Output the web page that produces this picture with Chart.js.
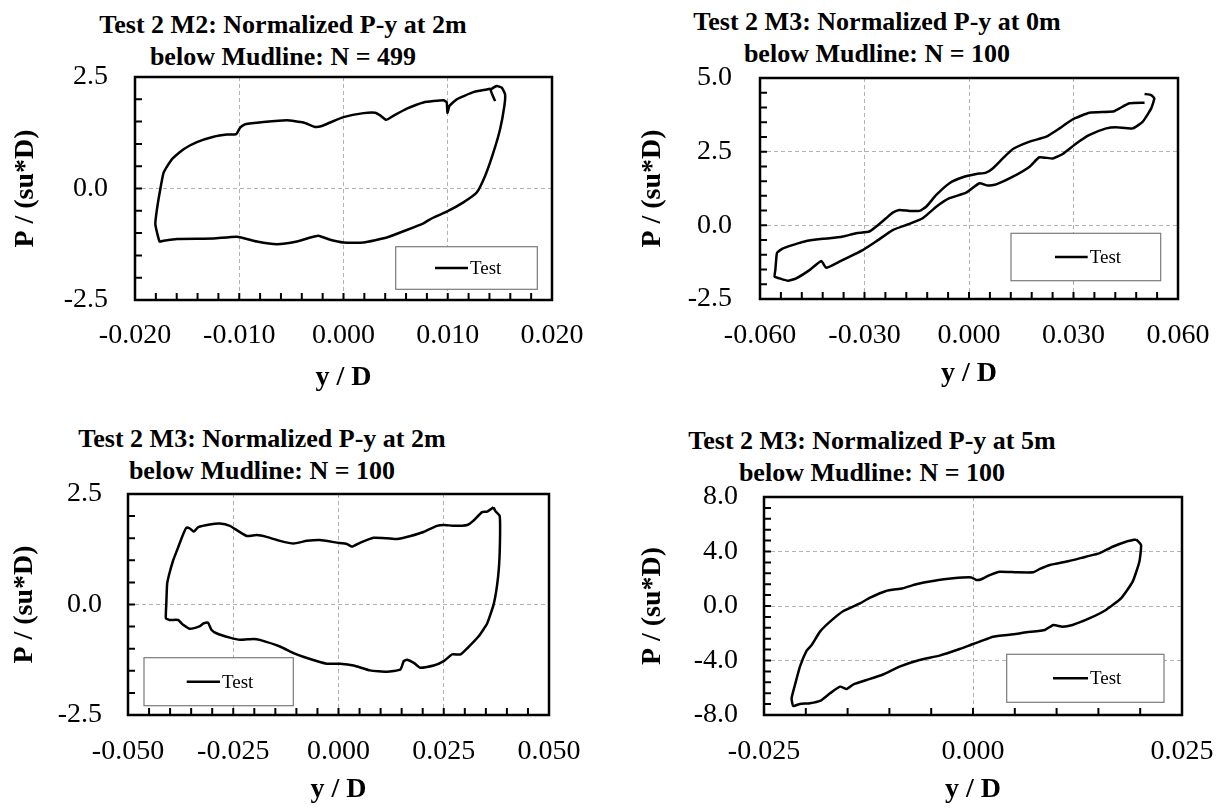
<!DOCTYPE html>
<html>
<head>
<meta charset="utf-8">
<title>Normalized P-y loops</title>
<script src="https://cdn.jsdelivr.net/npm/chart.js@4.4.1/dist/chart.umd.min.js"></script>
<style>
  body { margin: 0; background: #fff; width: 1225px; height: 810px; position: relative; overflow: hidden; }
  canvas { position: absolute; }
  .ttl {
    position: absolute; width: 600px; text-align: center; white-space: nowrap;
    font: bold 26px "Liberation Serif", "Times New Roman", serif; line-height: 32px; color: #000;
  }
</style>
</head>
<body>
<div class="ttl" style="left:-17px;top:9px">Test 2 M2: Normalized P-y at 2m<br>below Mudline: N = 499</div>
<div class="ttl" style="left:577px;top:6px">Test 2 M3: Normalized P-y at 0m<br>below Mudline: N = 100</div>
<div class="ttl" style="left:-38px;top:423px">Test 2 M3: Normalized P-y at 2m<br>below Mudline: N = 100</div>
<div class="ttl" style="left:572px;top:425px">Test 2 M3: Normalized P-y at 5m<br>below Mudline: N = 100</div>

<canvas id="c1" width="600" height="405" style="left:0;top:0"></canvas>
<canvas id="c2" width="613" height="405" style="left:612px;top:0"></canvas>
<canvas id="c3" width="600" height="405" style="left:0;top:405px"></canvas>
<canvas id="c4" width="613" height="405" style="left:612px;top:405px"></canvas>

<script>
// ---- Test 2 M2, 2 m below mudline, N = 499 ----
const m2z2X = [0.01454, 0.01412, 0.0147, 0.01518, 0.0155, 0.01543, 0.01502, 0.01438, 0.01358, 0.01278,
  0.0115, 0.0099, 0.00831, 0.00767, 0.00607, 0.00415, 0.00192, 0.0, -0.00128, -0.0024,
  -0.00319, -0.00447, -0.00639, -0.00831, -0.01022, -0.01246, -0.01597, -0.01725, -0.01764, -0.01805,
  -0.01789, -0.01757, -0.01725, -0.01645, -0.01534, -0.01406, -0.01246, -0.01118, -0.01029, -0.0099,
  -0.00942, -0.00767, -0.00543, -0.00383, -0.00272, -0.00208, -0.00128, 0.0, 0.00192, 0.00304,
  0.00352, 0.00409, 0.00479, 0.00607, 0.00767, 0.00959, 0.0099, 0.00997, 0.01016, 0.01086,
  0.01246, 0.01374, 0.01412];
const m2z2P = [1.96, 2.21, 2.30, 2.26, 2.11, 1.85, 1.33, 0.81, 0.28, -0.09,
  -0.31, -0.52, -0.69, -0.78, -0.93, -1.10, -1.21, -1.21, -1.15, -1.06,
  -1.10, -1.19, -1.25, -1.19, -1.08, -1.12, -1.13, -1.17, -1.19, -0.80,
  -0.46, -0.01, 0.36, 0.66, 0.88, 1.04, 1.16, 1.21, 1.22, 1.37,
  1.44, 1.49, 1.53, 1.48, 1.38, 1.40, 1.48, 1.60, 1.69, 1.70,
  1.64, 1.54, 1.63, 1.79, 1.93, 1.98, 1.93, 1.70, 1.85, 2.00,
  2.16, 2.22, 2.24];
const m2z2XTicks = [-0.02, -0.01, 0, 0.01, 0.02];
const m2z2PTicks = [-2.5, 0, 2.5];

// ---- Test 2 M3, 0 m below mudline, N = 100 ----
const m3z0X = [0.0504, 0.0523, 0.0532, 0.0523, 0.0499, 0.0470, 0.0422, 0.0394, 0.0346, 0.0308,
  0.0269, 0.0241, 0.0202, 0.0174, 0.0126, 0.0078, 0.0054, 0.0030, -0.0008, -0.0056,
  -0.0094, -0.0133, -0.0171, -0.0219, -0.0267, -0.0305, -0.0372, -0.0410, -0.0424, -0.0458,
  -0.0496, -0.0520, -0.0544, -0.0558, -0.0556, -0.0554, -0.0551, -0.0534, -0.0496, -0.0467,
  -0.0439, -0.0400, -0.0362, -0.0324, -0.0286, -0.0267, -0.0238, -0.0219, -0.0200, -0.0171,
  -0.0142, -0.0123, -0.0094, -0.0056, -0.0018, 0.0021, 0.0049, 0.0068, 0.0097, 0.0126,
  0.0174, 0.0222, 0.0260, 0.0298, 0.0346, 0.0413, 0.0432, 0.0461, 0.0504];
const m3z0P = [4.46, 4.42, 4.31, 3.97, 3.52, 3.29, 3.33, 3.29, 3.07, 2.78,
  2.42, 2.27, 2.31, 1.99, 1.65, 1.39, 1.35, 1.43, 1.11, 0.92,
  0.63, 0.24, 0.05, -0.16, -0.55, -0.84, -1.23, -1.44, -1.21, -1.52,
  -1.80, -1.88, -1.80, -1.74, -1.52, -1.23, -0.93, -0.78, -0.63, -0.53,
  -0.48, -0.44, -0.38, -0.27, -0.21, -0.05, 0.24, 0.43, 0.52, 0.49,
  0.49, 0.63, 1.03, 1.43, 1.63, 1.74, 1.79, 1.93, 2.27, 2.59,
  2.84, 3.01, 3.29, 3.60, 3.82, 3.86, 3.97, 4.14, 4.16];
const m3z0XTicks = [-0.06, -0.03, 0, 0.03, 0.06];
const m3z0PTicks = [-2.5, 0, 2.5, 5];

// ---- Test 2 M3, 2 m below mudline, N = 100 ----
const m3z2X = [0.0368, 0.0373, 0.0383, 0.0383, 0.0379, 0.0369, 0.0353, 0.0333, 0.0306, 0.0290,
  0.0270, 0.0250, 0.0226, 0.0194, 0.0179, 0.0163, 0.0155, 0.0147, 0.0115, 0.0075,
  0.0036, 0.0004, -0.0028, -0.0075, -0.0107, -0.0139, -0.0187, -0.0202, -0.0234, -0.0258,
  -0.0290, -0.0302, -0.0310, -0.0321, -0.0329, -0.0353, -0.0369, -0.0381, -0.0402, -0.0410,
  -0.0409, -0.0407, -0.0402, -0.0393, -0.0381, -0.0369, -0.0361, -0.0353, -0.0344, -0.0333,
  -0.0306, -0.0282, -0.0258, -0.0238, -0.0218, -0.0194, -0.0171, -0.0139, -0.0107, -0.0075,
  -0.0044, -0.0004, 0.0020, 0.0032, 0.0052, 0.0083, 0.0115, 0.0139, 0.0171, 0.0202,
  0.0234, 0.0250, 0.0274, 0.0306, 0.0321, 0.0341, 0.0353, 0.0368];
const m3z2P = [2.20, 2.11, 2.00, 1.22, 0.62, 0.02, -0.43, -0.72, -0.99, -1.13,
  -1.13, -1.28, -1.38, -1.43, -1.32, -1.25, -1.28, -1.47, -1.52, -1.49,
  -1.38, -1.34, -1.34, -1.21, -1.10, -0.95, -0.80, -0.78, -0.80, -0.75,
  -0.65, -0.57, -0.41, -0.43, -0.49, -0.55, -0.46, -0.35, -0.35, -0.31,
  0.02, 0.47, 0.69, 0.99, 1.29, 1.59, 1.74, 1.72, 1.65, 1.75,
  1.81, 1.83, 1.78, 1.66, 1.55, 1.57, 1.53, 1.44, 1.38, 1.44,
  1.46, 1.40, 1.37, 1.31, 1.40, 1.51, 1.50, 1.48, 1.55, 1.64,
  1.78, 1.80, 1.78, 1.80, 1.90, 2.09, 2.10, 2.20];
const m3z2XTicks = [-0.05, -0.025, 0, 0.025, 0.05];
const m3z2PTicks = [-2.5, 0, 2.5];

// ---- Test 2 M3, 5 m below mudline, N = 100 ----
const m3z5X = [0.0195, 0.0201, 0.0199, 0.0191, 0.0177, 0.0159, 0.0139, 0.0119, 0.0107, 0.0096,
  0.0086, 0.0064, 0.0048, 0.0024, 0.0008, 0.0000, -0.0016, -0.0040, -0.0064, -0.0088,
  -0.0107, -0.0127, -0.0143, -0.0151, -0.0159, -0.0171, -0.0183, -0.0195, -0.0207, -0.0215,
  -0.0217, -0.0213, -0.0207, -0.0199, -0.0193, -0.0183, -0.0171, -0.0155, -0.0135, -0.0123,
  -0.0104, -0.0084, -0.0068, -0.0048, -0.0024, -0.0002, 0.0004, 0.0010, 0.0020, 0.0032,
  0.0052, 0.0072, 0.0080, 0.0092, 0.0115, 0.0135, 0.0151, 0.0167, 0.0183, 0.0195];
const m3z5P = [4.89, 4.48, 3.25, 1.79, 0.56, -0.29, -0.91, -1.39, -1.52, -1.39,
  -1.76, -1.93, -2.08, -2.25, -2.62, -2.79, -3.16, -3.64, -3.96, -4.45,
  -5.01, -5.43, -5.75, -6.09, -5.92, -6.41, -6.97, -7.14, -7.19, -7.34,
  -6.78, -5.80, -4.45, -3.28, -2.86, -1.88, -1.15, -0.37, 0.20, 0.61,
  1.10, 1.30, 1.59, 1.83, 2.03, 2.10, 1.91, 1.96, 2.27, 2.52,
  2.47, 2.47, 2.72, 3.01, 3.30, 3.62, 3.86, 4.35, 4.72, 4.89];
const m3z5XTicks = [-0.025, 0, 0.025];
const m3z5PTicks = [-8, -4, 0, 4, 8];

Chart.defaults.font.family = '"Liberation Serif", "Times New Roman", serif';
Chart.defaults.color = '#000';

function fmt(v, dec) {
  return (Math.abs(v) < 1e-12 ? 0 : v).toFixed(dec);
}

// frame, inner minor ticks and the boxed legend for one panel
function framePlugin(lay) {
  return {
    id: 'frame',
    afterDatasetsDraw(chart) {
      const { ctx, chartArea: a } = chart;
      const xs = chart.scales.x, ys = chart.scales.y;
      ctx.save();
      ctx.strokeStyle = '#000';
      ctx.lineWidth = 2;
      ctx.setLineDash([]);
      ctx.beginPath();
      for (let k = 0; k < 100; k++) {
        const v = ys.min + k * lay.yMinor;
        if (v > ys.max + 1e-9) break;
        const py = ys.getPixelForValue(v);
        ctx.moveTo(a.left, py);
        ctx.lineTo(a.left + 7, py);
      }
      for (let k = 0; k < 100; k++) {
        const v = xs.min + k * lay.xMinor;
        if (v > xs.max + 1e-9) break;
        const px = xs.getPixelForValue(v);
        ctx.moveTo(px, a.bottom);
        ctx.lineTo(px, a.bottom - 7);
      }
      ctx.stroke();

      ctx.lineWidth = 2.5;
      ctx.strokeRect(a.left, a.top, a.right - a.left, a.bottom - a.top);

      const L = lay.legend;
      const bx = a.left + L.x, by = a.top + L.y;
      ctx.fillStyle = '#fff';
      ctx.fillRect(bx, by, L.w, L.h);
      ctx.strokeStyle = '#7a7a7a';
      ctx.lineWidth = 1.2;
      ctx.strokeRect(bx, by, L.w, L.h);
      const ly = by + L.h / 2;
      ctx.strokeStyle = '#000';
      ctx.lineWidth = 2.5;
      ctx.beginPath();
      ctx.moveTo(bx + L.line[0], ly);
      ctx.lineTo(bx + L.line[1], ly);
      ctx.stroke();
      ctx.fillStyle = '#000';
      ctx.font = '19px "Liberation Serif", "Times New Roman", serif';
      ctx.textAlign = 'left';
      ctx.textBaseline = 'middle';
      ctx.fillText(chart.data.datasets[0].label, bx + L.line[1] + 2, ly + 1);
      ctx.restore();
    }
  };
}

function gridColor(ticks) {
  const lo = ticks[0], hi = ticks[ticks.length - 1];
  return c => {
    const v = c.tick ? c.tick.value : 0;
    return (Math.abs(v - lo) < 1e-9 || Math.abs(v - hi) < 1e-9) ? 'rgba(0,0,0,0)' : '#b2b2b2';
  };
}

function makePanel(id, xs, ps, xTicks, pTicks, xDec, lay) {
  const pts = xs.map((v, i) => ({ x: v, y: ps[i] }));
  new Chart(document.getElementById(id), {
    type: 'scatter',
    data: {
      datasets: [{
        label: 'Test',
        data: pts,
        showLine: true,
        borderColor: '#000',
        borderWidth: 2.5,
        pointRadius: 0,
        tension: 0.15,
        fill: false
      }]
    },
    options: {
      responsive: false,
      animation: false,
      events: [],
      layout: { padding: { left: 0, top: lay.top, right: lay.right, bottom: 0 } },
      plugins: {
        legend: { display: false },
        tooltip: { enabled: false }
      },
      scales: {
        x: {
          type: 'linear',
          position: 'bottom',
          min: xTicks[0],
          max: xTicks[xTicks.length - 1],
          afterBuildTicks: s => { s.ticks = xTicks.map(v => ({ value: v })); },
          afterFit: s => { s.height = lay.xh; s.paddingLeft = 0; s.paddingRight = 0; },
          ticks: {
            callback: v => fmt(v, xDec),
            font: { size: 28 },
            color: '#000',
            padding: lay.xtp,
            maxRotation: 0,
            autoSkip: false
          },
          grid: { color: gridColor(xTicks), drawTicks: false, lineWidth: 1 },
          border: { display: false, dash: [4, 3] },
          title: {
            display: true, text: 'y / D', color: '#000',
            font: { size: 28, weight: 'bold' },
            padding: { top: 0, bottom: lay.xtt }
          }
        },
        y: {
          type: 'linear',
          position: 'left',
          min: pTicks[0],
          max: pTicks[pTicks.length - 1],
          afterBuildTicks: s => { s.ticks = pTicks.map(v => ({ value: v })); },
          afterFit: s => { s.width = lay.yw; s.paddingTop = 0; s.paddingBottom = 0; },
          ticks: {
            callback: v => fmt(v, 1),
            font: { size: 28 },
            color: '#000',
            padding: lay.ytp,
            autoSkip: false
          },
          grid: { color: gridColor(pTicks), drawTicks: false, lineWidth: 1 },
          border: { display: false, dash: [4, 3] },
          title: {
            display: true, text: 'P / (su*D)', color: '#000',
            font: { size: 28, weight: 'bold' },
            padding: { top: lay.ytt, bottom: 0 }
          }
        }
      }
    },
    plugins: [framePlugin(lay)]
  });
}

makePanel('c1', m2z2X, m2z2P, m2z2XTicks, m2z2PTicks, 3, {
  top: 77, right: 48, yw: 135, xh: 105, ytp: 27, ytt: 9, xtp: 19, xtt: 10,
  xMinor: 0.002, yMinor: 0.5,
  legend: { x: 260.7, y: 169.7, w: 141.6, h: 42.6, line: [39.3, 72.3] }
});
makePanel('c2', m3z0X, m3z0P, m3z0XTicks, m3z0PTicks, 3, {
  top: 78, right: 47, yw: 148, xh: 106, ytp: 28, ytt: 24, xtp: 20, xtt: 14,
  xMinor: 0.006, yMinor: 0.5,
  legend: { x: 251, y: 155.3, w: 149.7, h: 47.4, line: [44, 76.7] }
});
makePanel('c3', m3z2X, m3z2P, m3z2XTicks, m3z2PTicks, 3, {
  top: 89, right: 51, yw: 128, xh: 95, ytp: 26, ytt: 8, xtp: 20, xtt: 3,
  xMinor: 0.005, yMinor: 0.5,
  legend: { x: 16, y: 163.7, w: 149.3, h: 48, line: [42.7, 76] }
});
makePanel('c4', m3z5X, m3z5P, m3z5XTicks, m3z5PTicks, 3, {
  top: 92, right: 43, yw: 152, xh: 95, ytp: 26, ytt: 24, xtp: 20, xtt: 3,
  xMinor: 0.005, yMinor: 0.8,
  legend: { x: 242.7, y: 157.3, w: 157.3, h: 48, line: [46.3, 81.3] }
});
</script>
</body>
</html>
